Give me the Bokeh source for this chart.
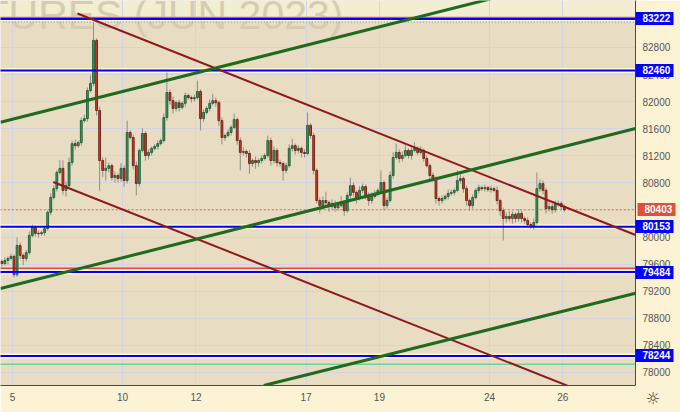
import numpy as np
from bokeh.plotting import figure
from bokeh.models import FixedTicker, LinearAxis, BoxAnnotation
from bokeh.core.properties import value
from bokeh.embed import file_html
from bokeh.resources import INLINE

# ---------------- data ----------------
day_ticks = [0, 3, 5, 8, 10, 13, 15]
day_labels = ["5", "10", "12", "17", "19", "24", "26"]
bars_per_day = 12
bars_before_first_tick = 4

first_open = 79640
closes = [
    79610, 79655, 79685, 79715, 79445, 79875, 79730, 79685, 79770, 80025,
    80140, 80055, 80050, 80065, 80125, 80365, 80585, 80715, 80955, 81015,
    80690, 80760, 81100, 81380, 81350, 81395, 81720, 81750, 82165, 82270,
    82905, 81870, 81130, 80985, 81015, 81055, 80880, 80910, 80865, 81015,
    80835, 81545, 81470, 81055, 80790, 81280, 81530, 81205, 81250, 81310,
    81340, 81380, 81425, 81765, 82135, 82015, 81900, 81985, 81915, 81975,
    82090, 82060, 82045, 82060, 82150, 81750, 81840, 81900, 81975, 82015,
    81985, 81720, 81470, 81500, 81545, 81620, 81735, 81425, 81250, 81265,
    81235, 81085, 81130, 81100, 81130, 81160, 81205, 81425, 81130, 81280,
    81100, 81085, 80985, 81055, 81310, 81350, 81280, 81310, 81250, 81235,
    81650, 81500, 80985, 80540, 80465, 80540, 80510, 80450, 80495, 80435,
    80465, 80510, 80390, 80615, 80760, 80660, 80570, 80690, 80745, 80615,
    80540, 80600, 80645, 80690, 80805, 80465, 80540, 80910, 81175, 81250,
    81160, 81205, 81280, 81205, 81280, 81310, 81250, 81280, 81160, 81055,
    80910, 80865, 80570, 80540, 80570, 80600, 80645, 80660, 80690, 80835,
    80865, 80715, 80540, 80465, 80585, 80690, 80730, 80715, 80730, 80700,
    80715, 80690, 80540, 80390, 80275, 80305, 80275, 80335, 80275, 80350,
    80275, 80245, 80185, 80155, 80215, 80715, 80790, 80690, 80420, 80450,
    80405, 80480, 80495, 80450, 80403,
]
wick_up = [
    30, 45, 30, 40, 30, 120, 45, 30, 40, 60,
    45, 30, 40, 30, 45, 30, 60, 45, 30, 120,
    120, 60, 75, 45, 60, 30, 45, 60, 45, 120,
    265, 30, 60, 45, 160, 45, 30, 60, 30, 75,
    45, 175, 30, 45, 60, 30, 75, 30, 45, 30,
    30, 45, 30, 60, 295, 45, 60, 30, 45, 30,
    45, 30, 30, 45, 160, 30, 45, 30, 60, 100,
    45, 30, 45, 30, 45, 30, 90, 30, 45, 60,
    30, 45, 30, 60, 30, 45, 30, 75, 45, 60,
    30, 45, 30, 45, 60, 100, 30, 45, 30, 45,
    190, 30, 45, 30, 45, 60, 130, 30, 60, 45,
    30, 100, 30, 45, 120, 45, 30, 60, 45, 30,
    45, 60, 45, 30, 180, 30, 45, 60, 75, 130,
    45, 60, 75, 30, 45, 90, 30, 60, 30, 45,
    30, 45, 30, 30, 45, 30, 60, 45, 30, 150,
    60, 30, 45, 30, 45, 30, 45, 30, 45, 30,
    45, 30, 60, 30, 45, 60, 75, 45, 30, 60,
    45, 30, 45, 30, 60, 240, 60, 45, 30, 60,
    45, 60, 45, 30, 30,
]
wick_dn = [
    45, 30, 60, 30, 45, 30, 60, 100, 45, 30,
    30, 45, 60, 30, 45, 30, 45, 30, 45, 30,
    60, 90, 30, 45, 60, 30, 45, 30, 45, 30,
    45, 75, 445, 100, 150, 60, 45, 75, 60, 45,
    90, 45, 30, 60, 175, 45, 30, 75, 60, 45,
    30, 45, 30, 30, 45, 60, 75, 45, 60, 30,
    45, 30, 60, 45, 30, 175, 45, 30, 45, 30,
    60, 75, 100, 45, 30, 45, 30, 60, 265, 45,
    60, 150, 45, 90, 60, 45, 30, 30, 75, 45,
    60, 45, 150, 45, 30, 45, 60, 45, 75, 60,
    30, 45, 60, 45, 115, 60, 45, 75, 45, 60,
    45, 30, 75, 30, 45, 60, 75, 30, 45, 60,
    75, 45, 30, 45, 30, 75, 45, 30, 45, 30,
    60, 45, 30, 45, 60, 30, 45, 30, 45, 30,
    60, 45, 75, 75, 45, 30, 45, 30, 45, 30,
    45, 60, 75, 75, 45, 30, 45, 30, 45, 30,
    45, 30, 60, 75, 325, 60, 45, 75, 60, 45,
    60, 45, 30, 30, 45, 30, 45, 60, 75, 45,
    60, 45, 30, 45, 30,
]

blue_levels = [83222, 82460, 80153, 79484, 78244]
last_price = 80403
dotted_high = 83176
red_levels = [83242, 79540]
green_level = 78122
band_bottom = 83222
price_ticks = list(range(78000, 83600, 400))

# trend lines: (day0, price0, day1, price1)
red_trends = [(1.771, 83302, 16.98, 80030), (1.109, 80813, 16.0, 77617)]
green_trends = [(-0.327, 81697, 17.0, 84060),
                (-0.327, 79240, 16.98, 81603),
                (6.848, 77808, 16.98, 79171)]
watermark = "FUTURES (JUN 2023)"
settings_icon = "\u263c"

# ---------------- figure ----------------
p = figure(width=680, height=412, x_range=(-0.327, 16.98), y_range=(77808, 83494),
           y_axis_location="right", output_backend="svg", toolbar_location=None,
           min_border_left=0, min_border_top=0, min_border_right=45, min_border_bottom=27,
           background_fill_color="#e8ddc3", border_fill_color="#fcf2d4",
           outline_line_color=None)

p.add_layout(BoxAnnotation(bottom=band_bottom, fill_color="#f1eed2", fill_alpha=1.0,
                           line_color=None, level="image"))

p.xaxis.ticker = FixedTicker(ticks=day_ticks)
p.xaxis.major_label_overrides = {t: l for t, l in zip(day_ticks, day_labels)}
p.yaxis.ticker = FixedTicker(ticks=price_ticks)
for ax in (p.xaxis[0], p.yaxis[0]):
    ax.major_tick_out = 0
    ax.major_tick_in = 0
    ax.minor_tick_out = 0
    ax.minor_tick_in = 0
    ax.axis_line_color = "#4a4a4a"
    ax.major_label_text_font = "Liberation Sans"
    ax.major_label_text_font_size = "10px"
    ax.major_label_text_color = "#555555"
p.xaxis.major_label_standoff = 7
p.yaxis.major_label_standoff = 7
p.xgrid.grid_line_color = "#d4d3e2"
p.ygrid.grid_line_color = "#d4d3e2"

# watermark
p.text(x=[9.02], y=[83273], text=[watermark], text_font=value("Liberation Sans"),
       text_font_size="41px", text_color="#d4cdb2", text_align="right",
       text_baseline="alphabetic")

# horizontal levels
ext0, ext1 = -1, 18
n_b = len(blue_levels)
p.segment(x0=[ext0] * n_b, y0=blue_levels, x1=[ext1] * n_b, y1=blue_levels,
          line_color="#fff7cf", line_width=5)
p.segment(x0=[ext0, ext0], y0=red_levels, x1=[ext1, ext1], y1=red_levels,
          line_color="#e24a4a", line_width=1.5)
p.segment(x0=[ext0], y0=[green_level], x1=[ext1], y1=[green_level],
          line_color="#6fd0a0", line_width=1.5)
p.segment(x0=[ext0], y0=[dotted_high], x1=[ext1], y1=[dotted_high],
          line_color="#8a8a8a", line_width=1, line_dash="1 2")
p.segment(x0=[ext0], y0=[last_price], x1=[ext1], y1=[last_price],
          line_color="#e06a60", line_width=1, line_dash="2 2")

# candles
c = np.array(closes, dtype=float)
o = np.concatenate([[first_open], c[:-1]])
hi = np.maximum(o, c) + np.array(wick_up)
lo = np.minimum(o, c) - np.array(wick_dn)
x = (np.arange(len(c)) - bars_before_first_tick + 0.5) / bars_per_day
up = c >= o
p.segment(x0=x, y0=hi, x1=x, y1=lo, line_color="#8d8d8d", line_width=1)
p.vbar(x=x[up], width=0.05, top=c[up], bottom=o[up], fill_color="#3f9a63",
       line_color="#1c5a31", line_width=0.9)
p.vbar(x=x[~up], width=0.05, top=o[~up], bottom=c[~up], fill_color="#cf3d2c",
       line_color="#6e1a12", line_width=0.9)

# blue level lines on top
p.segment(x0=[ext0] * n_b, y0=blue_levels, x1=[ext1] * n_b, y1=blue_levels,
          line_color="#0000ff", line_width=2)

# trend lines
p.segment(x0=[t[0] for t in red_trends], y0=[t[1] for t in red_trends],
          x1=[t[2] for t in red_trends], y1=[t[3] for t in red_trends],
          line_color="#8e1b1b", line_width=2)
p.segment(x0=[t[0] for t in green_trends], y0=[t[1] for t in green_trends],
          x1=[t[2] for t in green_trends], y1=[t[3] for t in green_trends],
          line_color="#1f6a1f", line_width=3)


# price boxes drawn by extra right axes (thick inward ticks as box, labels on top)
def box_axis(levels, color, tick_in, tick_out, standoff):
    ax = LinearAxis(ticker=FixedTicker(ticks=levels), axis_line_color=None,
                    major_tick_in=tick_in, major_tick_out=tick_out,
                    minor_tick_in=0, minor_tick_out=0,
                    major_tick_line_color=color, major_tick_line_width=13,
                    major_tick_line_cap="butt",
                    major_label_standoff=standoff, major_label_text_color="white",
                    major_label_text_font="Liberation Sans",
                    major_label_text_font_style="bold",
                    major_label_text_font_size="10px",
                    major_label_overrides={lv: f"{lv}\u00a0\u00a0" for lv in levels})
    p.add_layout(ax, "right")
    return ax


box_axis(blue_levels, "#0000ff", 38, 0, -31)
box_axis([last_price], "#e0503c", 41, -3, -34)

# settings icon in the bottom-right corner (label of an extra bottom axis)
icon_tick = 16.9
gear = LinearAxis(ticker=FixedTicker(ticks=[icon_tick]), axis_line_color=None,
                  major_tick_in=0, major_tick_out=0, minor_tick_in=0, minor_tick_out=0,
                  major_label_standoff=-15, major_label_text_font="DejaVu Sans",
                  major_label_text_font_size="16px", major_label_text_color="#333333",
                  major_label_overrides={icon_tick: "\u00a0" * 8 + settings_icon})
p.add_layout(gear, "below")

open("out.html", "w").write(file_html(p, INLINE))
